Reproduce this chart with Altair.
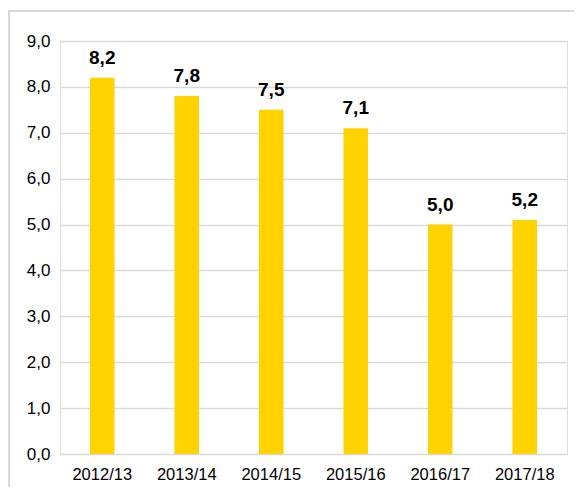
import altair as alt
import pandas as pd

categories = ["2012/13", "2013/14", "2014/15", "2015/16", "2016/17", "2017/18"]
values = [8.2, 7.8, 7.5, 7.1, 5.0, 5.1]
labels = ["8,2", "7,8", "7,5", "7,1", "5,0", "5,2"]

df = pd.DataFrame({"cat": categories, "val": values, "lab": labels})

W, H = 507, 413
FONT = "Liberation Sans"

x = alt.X("cat:N", sort=categories, title=None,
          scale=alt.Scale(paddingInner=0.71, paddingOuter=0.355),
          axis=alt.Axis(labelAngle=0, labelFont=FONT, labelFontSize=16.5, labelColor="#000000",
                        domain=False, ticks=False, labelPadding=12, grid=False))
y = alt.Y("val:Q", title=None,
          scale=alt.Scale(domain=[0, 9], nice=False),
          axis=alt.Axis(values=[0, 1, 2, 3, 4, 5, 6, 7, 8, 9],
                        labelExpr="replace(format(datum.value, '.1f'), '.', ',')",
                        labelFont=FONT, labelFontSize=17, labelColor="#000000",
                        domain=False, ticks=False, labelPadding=10,
                        gridColor="#d9d9d9", gridWidth=1.5))

base = alt.Chart(df)

frame = base.mark_rect(fill=None, stroke="#d9d9d9", strokeWidth=1.5, clip=False).encode(
    x=alt.value(-51), x2=alt.value(W + 40), y=alt.value(-30), y2=alt.value(H + 60)
)

bars = base.mark_bar(color="#FFD200").encode(x=x, y=y)

text = base.mark_text(font=FONT, fontSize=19, fontWeight="bold", color="#000000",
                      baseline="alphabetic", dy=-14).encode(
    x=alt.X("cat:N", sort=categories), y=alt.Y("val:Q"), text="lab:N"
)

chart = alt.layer(frame, bars, text).properties(
    width=W, height=H,
    autosize=alt.AutoSizeParams(type="none"),
    padding={"left": 52, "top": 33, "right": 7, "bottom": 33},
).configure_view(stroke=None).configure(background="white")

chart.save("out.html", embed_options={"renderer": "svg", "actions": False})
